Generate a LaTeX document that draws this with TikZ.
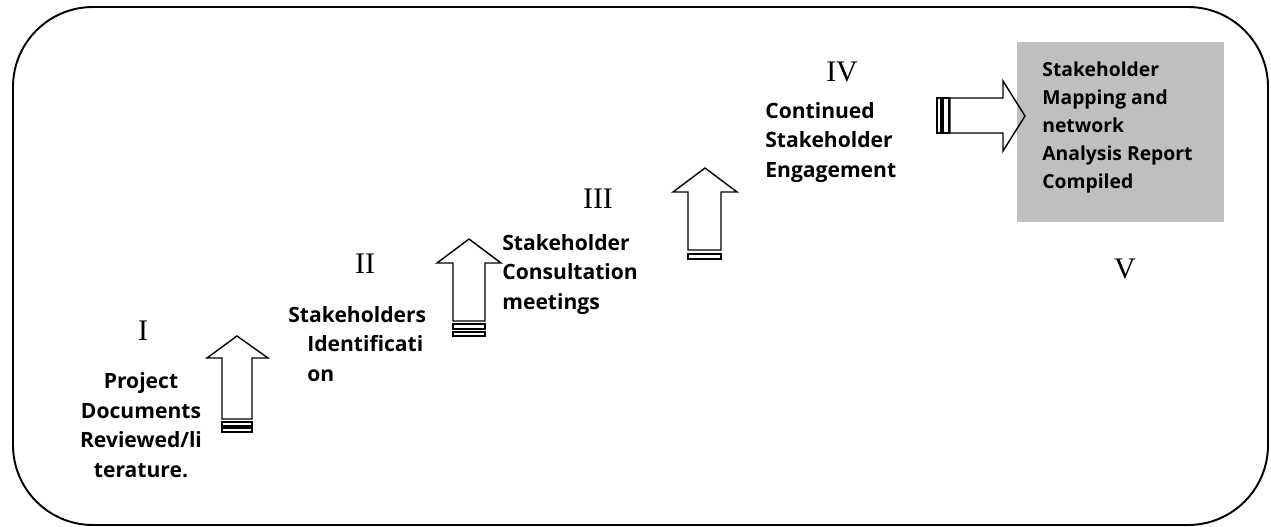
\documentclass[tikz,border=0pt]{standalone}
\usepackage{fontspec}
\newfontfamily\stepfont{Open Sans}
\newfontfamily\numfont{Liberation Serif}
\usetikzlibrary{positioning}
\definecolor{boxgrey}{HTML}{BFBFBF}

\begin{document}
\begin{tikzpicture}[x=0.02cm,y=-0.02cm,
    numeral/.style={font=\numfont\fontsize{17}{20}\selectfont, inner sep=0pt, anchor=base},
    steptext/.style={font=\stepfont\bfseries\fontsize{12}{16.7}\selectfont, inner sep=0pt, anchor=base west, align=left},
    reporttext/.style={font=\stepfont\bfseries\fontsize{11}{15.9}\selectfont, inner sep=0pt, anchor=base west, align=left},
    blockarrow/.style={draw, line width=0.8pt, line join=miter},
    stripe/.style={draw, line width=0.8pt}]
  \useasboundingbox (0,0) rectangle (1271,527);

  % frame
  \draw[line width=1.1pt, rounded corners=1.6cm] (13,7) rectangle (1268,525);

  % report box
  \node[fill=boxgrey, inner sep=0pt, minimum width=4.14cm, minimum height=3.6cm, anchor=north west] (report) at (1017,42) {};
  \begin{scope}
    \clip (1017,42) rectangle (1224,192);
    \node[reporttext] (t5) at (1042,188) {Stakeholder\\Mapping and\\network\\Analysis Report\\Compiled};
  \end{scope}

  % numerals
  \node[numeral] (n1) at (143,340) {I};
  \node[numeral] (n2) at (365,273) {II};
  \node[numeral] (n3) at (598,208) {III};
  \node[numeral] (n4) at (842,82) {IV};
  \node[numeral] (n5) at (1125,278) {V};

  % step texts (anchored at the last line)
  \node[steptext, align=center, anchor=base] (t1) at (141,477) {Project\\Documents\\Reviewed/li\\terature.};
  \node[steptext] (t2) at (307,381) {\hspace*{-0.38cm}Stakeholders\\Identificati\\on};
  \node[steptext] (t3) at (502,309) {Stakeholder\\Consultation\\meetings};
  \node[steptext] (t4) at (765,177) {Continued\\Stakeholder\\Engagement};

  % up arrows
  \draw[blockarrow] (222,419) -- (222,358) -- (207,358) -- (237,336) -- (268,358) -- (252,358) -- (252,419) -- cycle;
  \draw[stripe] (222,422) rectangle (252,426);
  \draw[stripe] (222,428) rectangle (252,432);

  \draw[blockarrow] (453,321) -- (453,263) -- (437,263) -- (469,239) -- (501,263) -- (485,263) -- (485,321) -- cycle;
  \draw[stripe] (453,324) rectangle (485,329);
  \draw[stripe] (453,332) rectangle (485,336);

  \draw[blockarrow] (688,250) -- (688,192) -- (673,192) -- (705,168) -- (737,192) -- (721,192) -- (721,250) -- cycle;
  \draw[stripe, line width=1.2pt] (688,254) rectangle (721,259);

  % right arrow
  \draw[blockarrow] (950,98) -- (1003,98) -- (1003,81) -- (1025,116) -- (1003,151) -- (1003,133) -- (950,133) -- cycle;
  \draw[stripe] (937,98) rectangle (941,133);
  \draw[stripe] (943,98) rectangle (949,133);
\end{tikzpicture}
\end{document}
